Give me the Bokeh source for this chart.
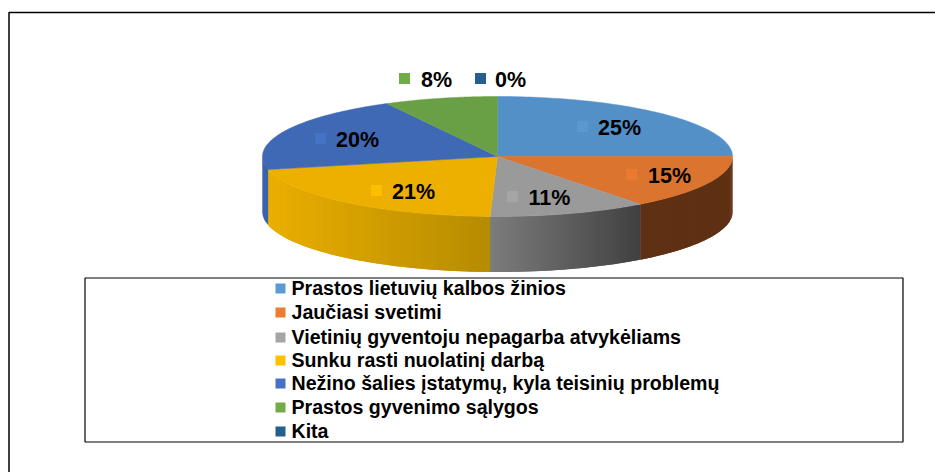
import math
from bokeh.plotting import figure
from bokeh.models import Range1d
from bokeh.embed import file_html
from bokeh.resources import INLINE
from bokeh.core.properties import value

categories = ["Prastos lietuvių kalbos žinios", "Jaučiasi svetimi",
              "Vietinių gyventoju nepagarba atvykėliams", "Sunku rasti nuolatinį darbą",
              "Nežino šalies įstatymų, kyla teisinių problemų", "Prastos gyvenimo sąlygos", "Kita"]
shares = [25, 14.6, 10.9, 21, 20.7, 7.8, 0]
share_labels = ["25%", "15%", "11%", "21%", "20%", "8%", "0%"]
top_colors = ["#5390c8", "#db742e", "#9a9a9a", "#edb000", "#3f69b5", "#6aa045", "#255e91"]
key_colors = ["#5b9bd5", "#ed7d31", "#a5a5a5", "#ffc000", "#4472c4", "#70ad47", "#255e91"]
label_key_colors = ["#5b97d0", "#ea7a30", "#a5a5a5", "#fdbd00", "#4472c4", "#70ad47", "#255e91"]

W, H = 935, 472
p = figure(width=W, height=H, output_backend="svg", toolbar_location=None,
           x_range=Range1d(0, W), y_range=Range1d(H, 0), min_border=0,
           outline_line_color=None, background_fill_color="white", border_fill_color="white")
p.xaxis.visible = False
p.yaxis.visible = False
p.grid.visible = False

CX, CY, RX, RY, DEPTH = 497, 156, 235, 60, 55.5

def pt(a):
    return CX + RX * math.sin(a), CY - RY * math.cos(a)

def lerp(c1, c2, t):
    return "#%02x%02x%02x" % tuple(round(a + (b - a) * t) for a, b in zip(c1, c2))

angles = [0.0]
for s in shares:
    angles.append(angles[-1] + 2 * math.pi * s / sum(shares))

# outer frame
p.line([8.5, 8.5, 935], [472, 12, 12], line_color="#000000", line_width=1.5)

# side walls: vertical strips that overlap so no seams appear
def wall(a0, a1, left_rgb, right_rgb, n=70):
    xl, xr = sorted((pt(a0)[0], pt(a1)[0]))
    for i in range(n):
        u0 = a0 + (a1 - a0) * i / n
        u1 = a0 + (a1 - a0) * min(i + 2, n) / n
        x0, y0 = pt(u0)
        x1, y1 = pt(u1)
        col = lerp(left_rgb, right_rgb, ((x0 + x1) / 2 - xl) / (xr - xl))
        p.patch([x0, x1, x1, x0], [y0, y1, y1 + DEPTH, y0 + DEPTH], fill_color=col, line_color=None)

wall(math.pi / 2, angles[2], (0x5f, 0x30, 0x13), (0x5f, 0x30, 0x13))
wall(angles[2], angles[3], (0x7c, 0x7c, 0x7c), (0x40, 0x40, 0x40))
wall(angles[3], angles[4], (0xea, 0xae, 0x00), (0xb5, 0x8b, 0x00))
wall(angles[4], 1.5 * math.pi, (0x3a, 0x62, 0xad), (0x3a, 0x62, 0xad), n=8)

# top faces
for i, s in enumerate(shares):
    if s == 0:
        continue
    n = 80
    us = [angles[i] + (angles[i + 1] - angles[i]) * k / n for k in range(n + 1)]
    xs = [CX] + [pt(u)[0] for u in us]
    ys = [CY] + [pt(u)[1] for u in us]
    p.patch(xs, ys, fill_color=top_colors[i], line_color=top_colors[i], line_width=0.5)

# data labels
lab_x = [619, 669, 549, 413, 357, 436, 510]
lab_y = [127, 175, 197, 191, 139, 79, 79]
key_x = [582, 631, 512, 376, 320, 404, 480]
for i, s in enumerate(shares):
    p.scatter([key_x[i]], [lab_y[i] - 1], marker="square", size=11, fill_color=label_key_colors[i], line_color=None)
    p.text([lab_x[i]], [lab_y[i]], text=[share_labels[i]], text_align="center", text_baseline="middle",
           text_font=value("Liberation Sans"), text_font_style="bold", text_font_size="21.5px", text_color="#000000")

# legend
p.quad(left=[84.5], right=[902.5], top=[277.5], bottom=[441.5], fill_color=None, line_color="#000000", line_width=1.2)
leg_y = [288, 312, 337, 360, 383, 407, 431]
for i, c in enumerate(categories):
    p.scatter([280], [leg_y[i]], marker="square", size=10, fill_color=key_colors[i], line_color=None)
    p.text([291], [leg_y[i] - 0.5], text=[c], text_align="left", text_baseline="middle",
           text_font=value("Liberation Sans"), text_font_style="bold", text_font_size="19.6px", text_color="#000000")

open("out.html", "w").write(file_html(p, INLINE))
